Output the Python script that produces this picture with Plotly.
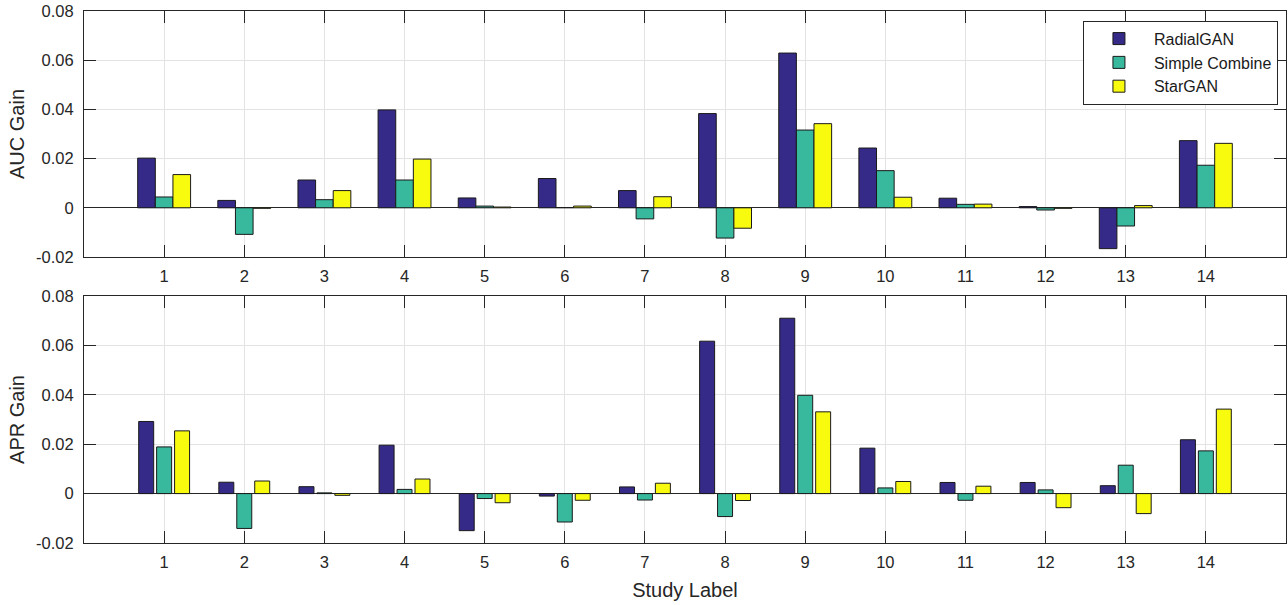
import plotly.graph_objects as go

studies = list(range(1, 15))
series_names = ["RadialGAN", "Simple Combine", "StarGAN"]
colors = ["#352a87", "#38b99e", "#f9fb0e"]

auc_radialgan = [0.0202, 0.0030, 0.0113, 0.0398, 0.0040, 0.0119, 0.0070, 0.0383, 0.0629, 0.0243, 0.0039, 0.0005, -0.0166, 0.0273]
auc_simple = [0.0044, -0.0108, 0.0033, 0.0113, 0.0007, 0.0001, -0.0045, -0.0123, 0.0316, 0.0151, 0.0014, -0.0009, -0.0074, 0.0173]
auc_stargan = [0.0135, -0.0002, 0.0070, 0.0198, 0.0003, 0.0007, 0.0045, -0.0083, 0.0342, 0.0043, 0.0015, -0.0002, 0.0009, 0.0262]

apr_radialgan = [0.0292, 0.0046, 0.0028, 0.0196, -0.0150, -0.0010, 0.0027, 0.0617, 0.0710, 0.0184, 0.0045, 0.0045, 0.0032, 0.0218]
apr_simple = [0.0189, -0.0141, 0.0003, 0.0017, -0.0020, -0.0115, -0.0026, -0.0093, 0.0398, 0.0023, -0.0027, 0.0015, 0.0115, 0.0173]
apr_stargan = [0.0254, 0.0051, -0.0007, 0.0059, -0.0037, -0.0027, 0.0042, -0.0028, 0.0331, 0.0049, 0.0030, -0.0057, -0.0081, 0.0342]

ytick_vals = [-0.02, 0, 0.02, 0.04, 0.06, 0.08]
ytick_text = ["-0.02", "0", "0.02", "0.04", "0.06", "0.08"]

fig = go.Figure()

top_width = 0.22
top_centers = [-0.22, 0.0, 0.22]
bot_width = 0.187
bot_centers = [-0.224, 0.0, 0.224]

for i, (name, vals) in enumerate(zip(series_names, [auc_radialgan, auc_simple, auc_stargan])):
    fig.add_trace(go.Bar(
        x=studies, y=vals, name=name, legendgroup=name,
        marker=dict(color=colors[i], line=dict(color="#1a1a1a", width=1)),
        width=top_width, offset=top_centers[i] - top_width / 2,
        xaxis="x", yaxis="y", showlegend=True,
    ))

for i, (name, vals) in enumerate(zip(series_names, [apr_radialgan, apr_simple, apr_stargan])):
    fig.add_trace(go.Bar(
        x=studies, y=vals, name=name, legendgroup=name,
        marker=dict(color=colors[i], line=dict(color="#1a1a1a", width=1)),
        width=bot_width, offset=bot_centers[i] - bot_width / 2,
        xaxis="x2", yaxis="y2", showlegend=False,
    ))

axis_line = "#262626"
grid = "#e3e3e3"
font_fam = "Liberation Sans, Arial, Helvetica, sans-serif"
tick_font = dict(size=16.5, color="#262626")

xcommon = dict(
    range=[0, 15], tickvals=studies, ticktext=[str(s) for s in studies],
    showgrid=True, gridcolor=grid, gridwidth=1,
    showline=True, linecolor=axis_line, linewidth=1, mirror="ticks",
    ticks="inside", ticklen=12, tickcolor=axis_line, tickwidth=1,
    tickfont=tick_font, zeroline=False, automargin=False,
    ticklabelstandoff=4,
)
ycommon = dict(
    range=[-0.02, 0.08], tickvals=ytick_vals, ticktext=ytick_text,
    showgrid=True, gridcolor=grid, gridwidth=1,
    showline=True, linecolor=axis_line, linewidth=1, mirror="ticks",
    ticks="inside", ticklen=12, tickcolor=axis_line, tickwidth=1,
    tickfont=tick_font, automargin=False, ticklabelstandoff=6,
    zeroline=True, zerolinecolor=axis_line, zerolinewidth=1,
)

fig.update_layout(
    width=1288, height=605,
    margin=dict(l=84, r=2, t=11, b=62),
    paper_bgcolor="white", plot_bgcolor="white",
    font=dict(family=font_fam, color="#262626"),
    barmode="group",
    xaxis=dict(domain=[0, 1], anchor="y", **xcommon),
    yaxis=dict(domain=[0.5376, 1], anchor="x",
               title=dict(text="AUC Gain", font=dict(size=20), standoff=6), **ycommon),
    xaxis2=dict(domain=[0, 1], anchor="y2",
                title=dict(text="Study Label", font=dict(size=20), standoff=13), **xcommon),
    yaxis2=dict(domain=[0, 0.4643], anchor="x2",
                title=dict(text="APR Gain", font=dict(size=20), standoff=6), **ycommon),
    legend=dict(
        x=0.9933, y=0.9818, xanchor="right", yanchor="top",
        bgcolor="white", bordercolor=axis_line, borderwidth=1,
        font=dict(size=16, color="#1a1a1a"), tracegroupgap=0,
        itemwidth=60,
    ),
    showlegend=True,
)

fig.write_html(
    "out.html",
    config={"displayModeBar": False},
    post_script="document.body.style.margin='0px';document.body.style.overflow='hidden';",
)
